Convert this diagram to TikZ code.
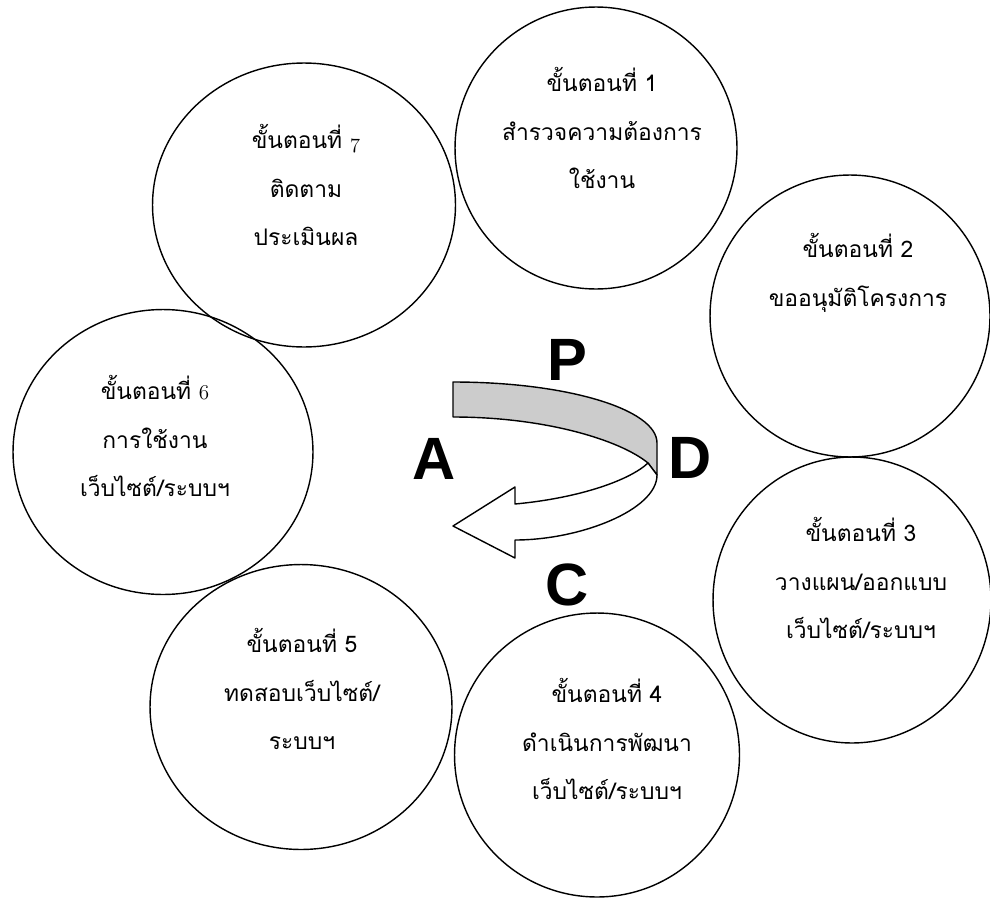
\documentclass[tikz,border=0pt]{standalone}
\usepackage{fontspec}
\newfontfamily\thaifont[Script=Thai]{Loma}
\newfontfamily\pdcafont{Liberation Sans}
\usetikzlibrary{shapes.geometric}
\newcommand\oldnum[1]{{\usefont{OML}{cmm}{m}{it}#1}}

\begin{document}
\begin{tikzpicture}[x=0.02cm,y=-0.02cm,line join=round,
	stepball/.style={ellipse,draw,line width=.8pt,inner sep=0pt},
	steptext/.style={align=center,font=\thaifont\fontsize{13}{27.5}\selectfont},
	pdca/.style={font=\pdcafont\bfseries\fontsize{34}{34}\selectfont}]
	\useasboundingbox (0,0) rectangle (990,899);
	% the seven steps
	\node[stepball,minimum width=5.64cm,minimum height=5.64cm] (s1) at (596,148) {};
	\node[stepball,minimum width=5.60cm,minimum height=5.64cm] (s2) at (850,316) {};
	\node[stepball,minimum width=5.56cm,minimum height=5.72cm] (s3) at (852,600) {};
	\node[stepball,minimum width=5.70cm,minimum height=5.68cm] (s4) at (597,755) {};
	\node[stepball,minimum width=6.04cm,minimum height=5.70cm] (s5) at (301,707) {};
	\node[stepball,minimum width=6.00cm,minimum height=5.70cm] (s6) at (163,452) {};
	\node[stepball,minimum width=6.06cm,minimum height=5.68cm] (s7) at (304,205) {};
	\node[steptext] (t1) at ([xshift=.12cm,yshift=.4cm]s1.center) {ขั้นตอนที่ 1\\สำรวจความต้องการ\\ใช้งาน};
	\node[steptext] (t2) at ([xshift=.16cm,yshift=.86cm]s2.center) {ขั้นตอนที่ 2\\ขออนุมัติโครงการ};
	\node[steptext] (t3) at ([xshift=.18cm,yshift=.44cm]s3.center) {ขั้นตอนที่ 3\\วางแผน/ออกแบบ\\เว็บไซต์/ระบบฯ};
	\node[steptext] (t4) at ([xshift=.2cm,yshift=.32cm]s4.center) {ขั้นตอนที่ 4\\ดำเนินการพัฒนา\\เว็บไซต์/ระบบฯ};
	\node[steptext] (t5) at ([xshift=.02cm,yshift=.36cm]s5.center) {ขั้นตอนที่ 5\\ทดสอบเว็บไซต์/\\ระบบฯ};
	\node[steptext] (t6) at ([xshift=-.16cm,yshift=.32cm]s6.center) {ขั้นตอนที่ \oldnum{6}\\การใช้งาน\\เว็บไซต์/ระบบฯ};
	\node[steptext] (t7) at ([xshift=.04cm,yshift=.4cm]s7.center) {ขั้นตอนที่ \oldnum{7}\\ติดตาม\\ประเมินผล};
	% ribbon arrow
	\filldraw[fill=black!20,line width=.8pt] (453,382) .. controls (566,382) and (657,409) .. (657,443)
		-- (657,475) -- (648,463) .. controls (620,440) and (545,417) .. (453,417) -- cycle;
	\filldraw[fill=white,line width=.8pt] (657,475) .. controls (657,510) and (580,540) .. (515,540)
		-- (515,558) -- (453,526) -- (515,487) -- (515,504) .. controls (580,498) and (630,480) .. (648,463) -- cycle;
	\node[pdca] (p) at (567,360) {P};
	\node[pdca] (d) at (690,458) {D};
	\node[pdca] (c) at (567,585) {C};
	\node[pdca] (a) at (434,459) {A};
\end{tikzpicture}
\end{document}
